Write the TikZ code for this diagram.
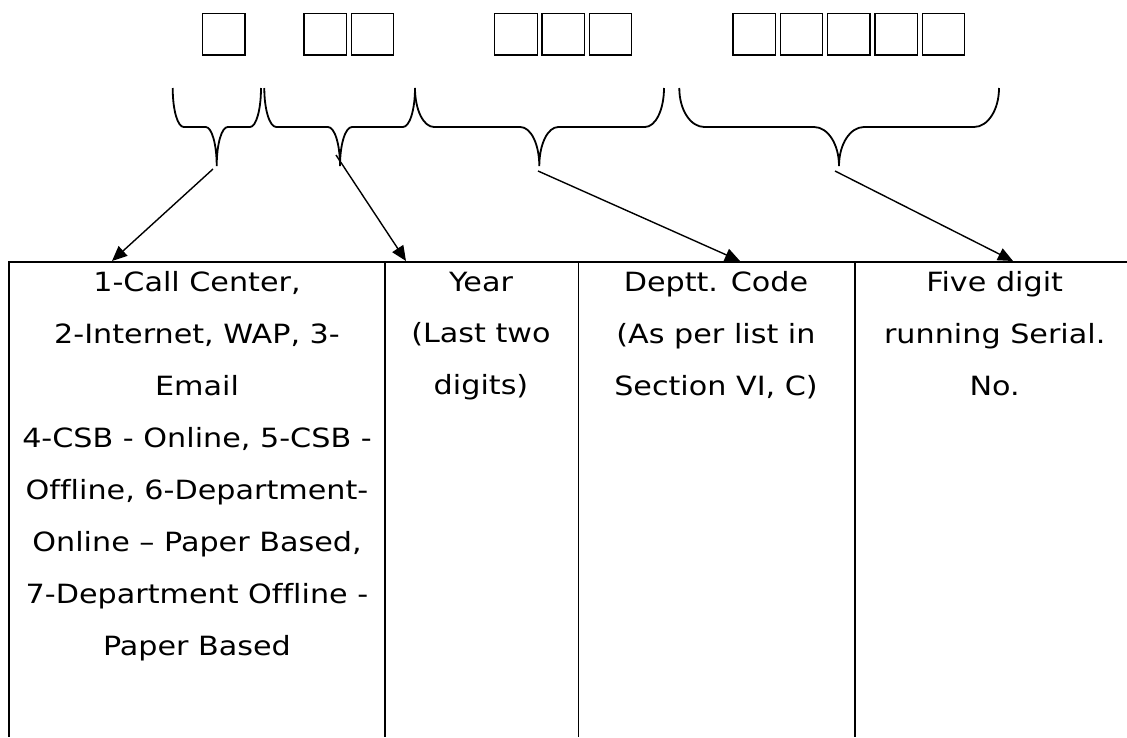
\documentclass[tikz,border=0pt]{standalone}
\usepackage{fontspec}
\setmainfont[Ligatures=NoCommon,FakeStretch=1.14]{DejaVu Sans}
\usetikzlibrary{arrows.meta}

% curly brace lying on its side: left end, tip, right end, curve size
\newcommand{\curlybrace}[4]{%
  \draw[curly] (#1,88) .. controls (#1,110) and (#1+0.45*#4,127) .. (#1+#4,127)
    -- (#2-#4,127) .. controls (#2-0.45*#4,127) and (#2,144) .. (#2,166)
    .. controls (#2,144) and (#2+0.45*#4,127) .. (#2+#4,127)
    -- (#3-#4,127) .. controls (#3-0.45*#4,127) and (#3,110) .. (#3,88);}

\begin{document}
\begin{tikzpicture}[x=1pt,y=-1pt,
    digit/.style={draw,line width=1.3pt,minimum width=42.5pt,minimum height=41.5pt,inner sep=0pt,anchor=north west},
    curly/.style={line width=1.8pt},
    pointer/.style={line width=1.4pt,-{Triangle[length=15pt,width=13pt]}},
    rule/.style={line width=2pt},
    cell/.style={anchor=north,align=center,inner sep=0pt,font=\fontsize{26.5}{51.9}\selectfont}]
  \useasboundingbox (0,0) rectangle (1127,737);
  % the digit boxes
  \foreach \g/\sx/\k in {a/201.7/1,b/303.3/2,c/494/3,d/732.3/5}{
    \foreach \i in {1,...,\k}
      \node[digit] (\g\i) at ({\sx+47.3*(\i-1)},12.7) {};
  }
  % braces
  \curlybrace{172.7}{216.7}{261}{11}
  \curlybrace{264.3}{340}{415}{12}
  \curlybrace{415}{539.3}{664}{19}
  \curlybrace{679.3}{839}{999}{25}
  % table
  \draw[rule] (1127,262) -- (9,262) -- (9,737);
  \draw[rule] (385,262) -- (385,737);
  \draw[line width=1pt] (578,262) -- (578,737);
  \draw[rule] (855,262) -- (855,737);
  \node[cell] (mode) at (197,271.5) {1-Call Center,\\2-Internet, WAP, 3-\\Email\\4-CSB - Online, 5-CSB -\\Offline, 6-Department-\\Online – Paper Based,\\7-Department Offline -\\Paper Based};
  \node[cell] (year) at (481,271.5) {Year\\(Last two\\digits)};
  \node[cell] (dept) at (716,271.5) {Deptt. Code\\(As per list in\\Section VI, C)};
  \node[cell] (serial) at (994.7,271.5) {Five digit\\running Serial.\\No.};
  % arrows
  \coordinate (s1) at (213,169);
  \coordinate (s2) at (336,155);
  \coordinate (s3) at (538,171);
  \coordinate (s4) at (835,171);
  \coordinate (e1) at (112,261);
  \coordinate (e2) at (406,261);
  \coordinate (e3) at (740,261);
  \coordinate (e4) at (1013,261);
  \draw[pointer] (s1) -- (e1);
  \draw[pointer] (s2) -- (e2);
  \draw[pointer] (s3) -- (e3);
  \draw[pointer] (s4) -- (e4);
\end{tikzpicture}
\end{document}
